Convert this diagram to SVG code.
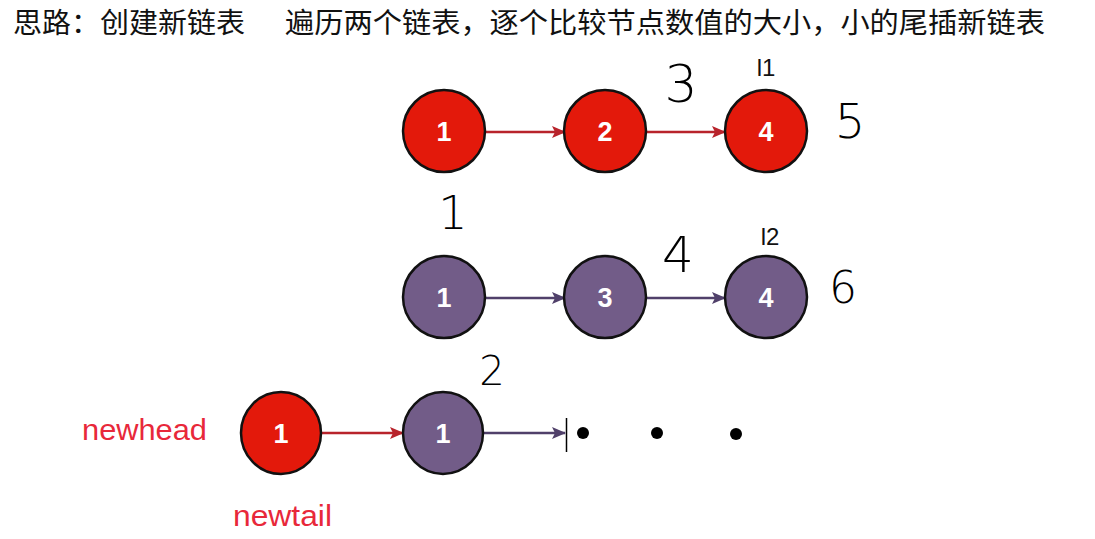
<svg xmlns="http://www.w3.org/2000/svg" width="1095" height="539" viewBox="0 0 1095 539">
<style>
.title{font-family:"Noto Sans CJK SC","Liberation Sans",sans-serif;font-size:28px;fill:#111}
.red{fill:#e3190b;stroke:#111;stroke-width:2.5}
.pur{fill:#725c88;stroke:#111;stroke-width:2.5}
.num{font-family:"Liberation Sans",Arial,sans-serif;font-weight:bold;font-size:27px;fill:#fff;text-anchor:middle}
.lab{font-family:"Liberation Sans",Arial,sans-serif;font-size:29px;fill:#e8283a}
.hand{font-family:"DejaVu Sans","Liberation Sans",sans-serif;font-weight:200;fill:#000;text-anchor:middle}
.ll{font-family:"Liberation Sans",Arial,sans-serif;font-size:24px;fill:#111;text-anchor:middle}
.ar{stroke:#b8232b;stroke-width:2.5;fill:none}
.ap{stroke:#50406a;stroke-width:2.5;fill:none}
</style>
<defs>
<marker id="mr" markerUnits="userSpaceOnUse" markerWidth="14" markerHeight="12" refX="13" refY="6" orient="auto"><path d="M0,0 L14,6 L0,12 L3,6 Z" fill="#b8232b"/></marker>
<marker id="mp" markerUnits="userSpaceOnUse" markerWidth="14" markerHeight="12" refX="13" refY="6" orient="auto"><path d="M0,0 L14,6 L0,12 L3,6 Z" fill="#50406a"/></marker>
</defs>
<rect width="1095" height="539" fill="#fff"/>
<g id="title">
<text class="title" x="13" y="33" textLength="232" lengthAdjust="spacingAndGlyphs">思路：创建新链表</text>
<text class="title" x="285" y="33" textLength="760" lengthAdjust="spacingAndGlyphs">遍历两个链表，逐个比较节点数值的大小，小的尾插新链表</text>
</g>
<g id="connectors">
<line class="ar" x1="485" y1="132" x2="565" y2="132" marker-end="url(#mr)"/>
<line class="ar" x1="646" y1="132" x2="725" y2="132" marker-end="url(#mr)"/>
<line class="ap" x1="485" y1="298" x2="565" y2="298" marker-end="url(#mp)"/>
<line class="ap" x1="646" y1="298" x2="725" y2="298" marker-end="url(#mp)"/>
<line class="ar" x1="321" y1="433" x2="403" y2="433" marker-end="url(#mr)"/>
<line class="ap" x1="484" y1="433" x2="565" y2="433" marker-end="url(#mp)"/>
<line x1="566.5" y1="418" x2="566.5" y2="452" stroke="#000" stroke-width="1.5"/>
</g>
<g id="l1n1"><circle class="red" cx="444" cy="131" r="41"/><text class="num" x="444" y="141">1</text></g>
<g id="l1n2"><circle class="red" cx="605" cy="131" r="41"/><text class="num" x="605" y="141">2</text></g>
<g id="l1n4"><circle class="red" cx="766" cy="131" r="41"/><text class="num" x="766" y="141">4</text></g>
<g id="l2n1"><circle class="pur" cx="444" cy="297" r="41"/><text class="num" x="444" y="307">1</text></g>
<g id="l2n3"><circle class="pur" cx="605" cy="297" r="41"/><text class="num" x="605" y="307">3</text></g>
<g id="l2n4"><circle class="pur" cx="766" cy="297" r="41"/><text class="num" x="766" y="307">4</text></g>
<g id="newn1"><ellipse class="red" cx="281" cy="433" rx="40" ry="41"/><text class="num" x="281" y="443">1</text></g>
<g id="newn2"><ellipse class="pur" cx="443" cy="433" rx="40" ry="41"/><text class="num" x="443" y="443">1</text></g>
<g id="dots" fill="#000">
<circle cx="583" cy="433" r="6"/><circle cx="657" cy="433" r="6"/><circle cx="736" cy="434" r="6"/>
</g>
<g id="labels">
<text class="ll" x="766" y="76">l1</text>
<text class="ll" x="770" y="245">l2</text>
<text class="lab" x="82" y="440" textLength="125" lengthAdjust="spacingAndGlyphs">newhead</text>
<text class="lab" x="233" y="526" textLength="99" lengthAdjust="spacingAndGlyphs">newtail</text>
</g>
<g id="annotations">
<text class="hand" x="681" y="102" font-size="52">3</text>
<text class="hand" x="850" y="138" font-size="48">5</text>
<text class="hand" x="453" y="229" font-size="46">1</text>
<text class="hand" x="678" y="272" font-size="50">4</text>
<text class="hand" x="843" y="303" font-size="44">6</text>
<text class="hand" x="492" y="385" font-size="40">2</text>
</g>
</svg>
